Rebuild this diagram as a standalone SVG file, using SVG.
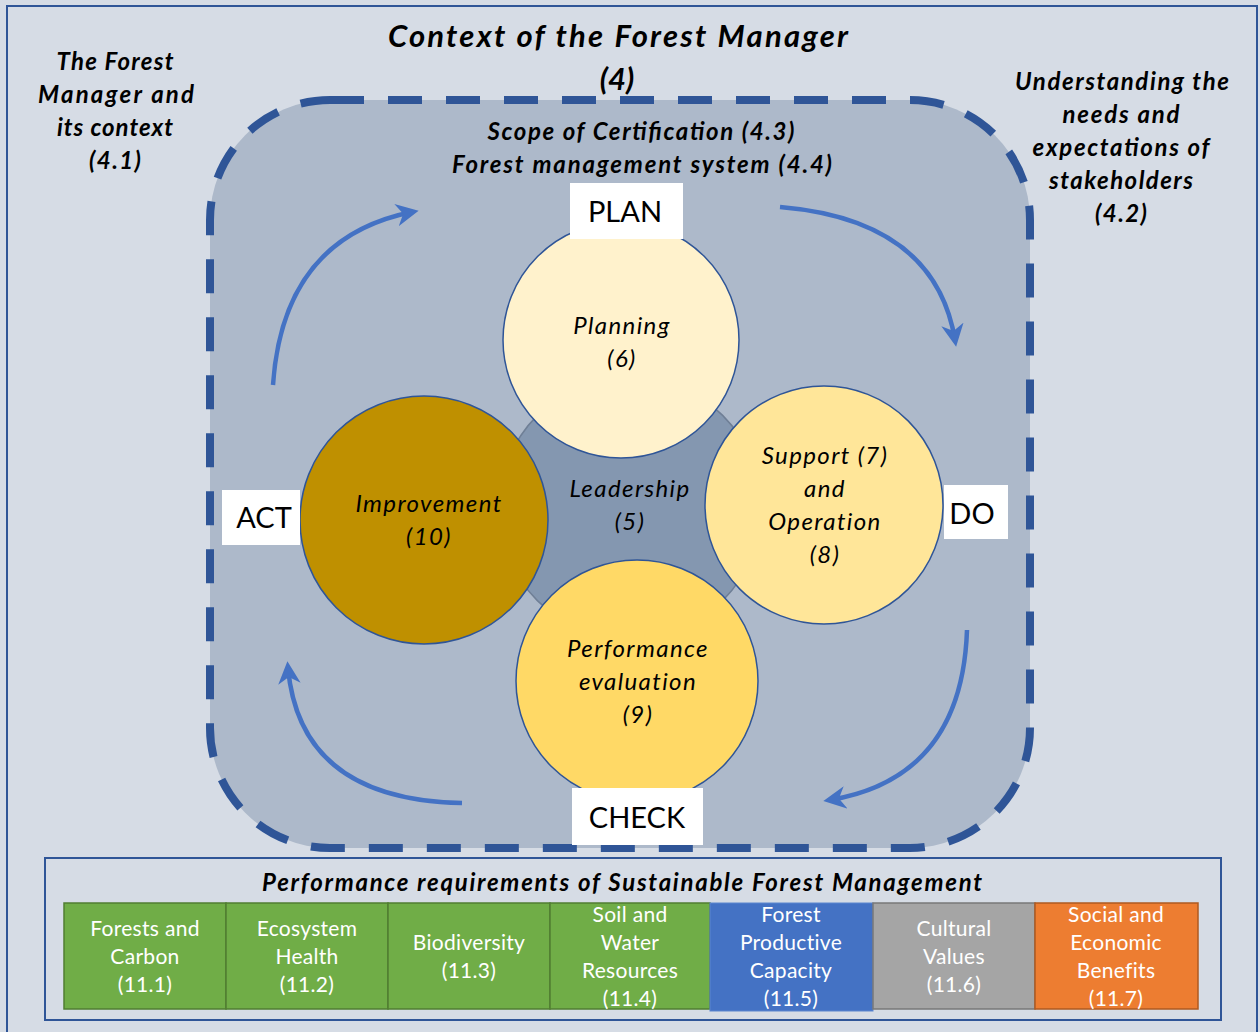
<svg xmlns="http://www.w3.org/2000/svg" width="1260" height="1032" viewBox="0 0 1260 1032">
<style>
.hb{font-family:Lato,"Open Sans","Liberation Sans",sans-serif;font-weight:bold;font-style:italic;font-size:24px;fill:#000;text-anchor:middle}
.ci{font-family:Lato,"Open Sans","Liberation Sans",sans-serif;font-style:italic;font-size:24px;letter-spacing:1.4px;fill:#000;text-anchor:middle}
.lb{font-family:Lato,"Open Sans","Liberation Sans",sans-serif;font-size:29px;fill:#000;text-anchor:middle}
.ct{font-family:Lato,"Open Sans","Liberation Sans",sans-serif;font-size:21px;letter-spacing:0.3px;fill:#fff;text-anchor:middle}
.circ{stroke:#2F5597;stroke-width:1.5}
.arr{fill:none;stroke:#4472C4;stroke-width:4.5;marker-end:url(#ah)}
.box{fill:#fff}
</style>
<defs>
<marker id="ah" viewBox="0 0 10 10" refX="7" refY="5" markerWidth="5" markerHeight="5" orient="auto" markerUnits="strokeWidth">
<path d="M0,0 L10,5 L0,10 L3,5 Z" fill="#4472C4"/>
</marker>
</defs>
<rect x="0" y="0" width="1260" height="1032" fill="#D6DCE5"/>
<rect x="7" y="6" width="1250" height="1040" fill="#D6DCE5" stroke="#2F5597" stroke-width="2"/>

<g id="context">
<rect x="210" y="100" width="820" height="748" rx="120" ry="120" fill="#ADB9CA" stroke="#2F5597" stroke-width="8" stroke-dasharray="34 24"/>
<text class="hb" x="618" y="47" style="font-size:31px" textLength="460" lengthAdjust="spacing">Context of the Forest Manager</text>
<text class="hb" x="617" y="90" style="font-size:31px">(4)</text>
<text class="hb" x="641" y="140" textLength="307" lengthAdjust="spacing">Scope of Certification (4.3)</text>
<text class="hb" x="642" y="173" textLength="380" lengthAdjust="spacing">Forest management system (4.4)</text>
</g>

<g id="forest-manager-context">
<text class="hb" x="115" y="70" textLength="117" lengthAdjust="spacing">The Forest</text>
<text class="hb" x="116" y="103" textLength="156" lengthAdjust="spacing">Manager and</text>
<text class="hb" x="115" y="136" textLength="116" lengthAdjust="spacing">its context</text>
<text class="hb" x="115" y="169" textLength="52" lengthAdjust="spacing">(4.1)</text>
</g>

<g id="stakeholders">
<text class="hb" x="1122" y="90" textLength="214" lengthAdjust="spacing">Understanding the</text>
<text class="hb" x="1121" y="123" textLength="117" lengthAdjust="spacing">needs and</text>
<text class="hb" x="1121" y="156" textLength="177" lengthAdjust="spacing">expectations of</text>
<text class="hb" x="1121" y="189" textLength="144" lengthAdjust="spacing">stakeholders</text>
<text class="hb" x="1121" y="222" textLength="52" lengthAdjust="spacing">(4.2)</text>
</g>

<g id="connectors">
<path class="arr" d="M273,385 Q283,238 412,212"/>
<path class="arr" d="M780,207 Q935,220 955,340"/>
<path class="arr" d="M967,630 Q962,778 830,800"/>
<path class="arr" d="M462,803 Q300,800 288,668"/>
</g>

<g id="leadership">
<circle cx="630" cy="508" r="131" fill="#8497B0" stroke="#6F7F96" stroke-width="1.5"/>
<text class="ci" x="630" y="497">Leadership</text>
<text class="ci" x="630" y="530">(5)</text>
</g>

<g id="planning">
<circle class="circ" cx="621" cy="340" r="118" fill="#FFF2CC"/>
<text class="ci" x="622" y="334">Planning</text>
<text class="ci" x="622" y="367">(6)</text>
</g>

<g id="support">
<circle class="circ" cx="824" cy="505" r="119" fill="#FFE699"/>
<text class="ci" x="825" y="464">Support (7)</text>
<text class="ci" x="825" y="497">and</text>
<text class="ci" x="825" y="530">Operation</text>
<text class="ci" x="825" y="563">(8)</text>
</g>

<g id="performance">
<circle class="circ" cx="637" cy="681" r="121" fill="#FFD966"/>
<text class="ci" x="638" y="657">Performance</text>
<text class="ci" x="638" y="690">evaluation</text>
<text class="ci" x="638" y="723">(9)</text>
</g>

<g id="improvement">
<circle class="circ" cx="424" cy="520" r="124" fill="#BF9000"/>
<text class="ci" x="429" y="512">Improvement</text>
<text class="ci" x="429" y="545">(10)</text>
</g>

<g id="plan">
<rect class="box" x="570" y="183" width="113" height="56"/>
<text class="lb" x="625" y="222">PLAN</text>
</g>
<g id="do">
<rect class="box" x="944" y="485" width="64" height="54"/>
<text class="lb" x="972" y="524">DO</text>
</g>
<g id="act">
<rect class="box" x="222" y="490" width="78" height="55"/>
<text class="lb" x="264" y="528">ACT</text>
</g>
<g id="check">
<rect class="box" x="572" y="788" width="131" height="57"/>
<text class="lb" x="637" y="828">CHECK</text>
</g>

<g id="performance-requirements">
<rect x="45" y="858" width="1176" height="162" fill="none" stroke="#2F5597" stroke-width="2"/>
<text class="hb" x="622" y="891" textLength="720" lengthAdjust="spacing">Performance requirements of Sustainable Forest Management</text>
</g>

<g id="c111">
<rect x="64" y="903" width="162" height="106" fill="#70AD47" stroke="#507E32" stroke-width="1.5"/>
<text class="ct" x="145" y="936">Forests and</text>
<text class="ct" x="145" y="964">Carbon</text>
<text class="ct" x="145" y="992">(11.1)</text>
</g>
<g id="c112">
<rect x="226" y="903" width="162" height="106" fill="#70AD47" stroke="#507E32" stroke-width="1.5"/>
<text class="ct" x="307" y="936">Ecosystem</text>
<text class="ct" x="307" y="964">Health</text>
<text class="ct" x="307" y="992">(11.2)</text>
</g>
<g id="c113">
<rect x="388" y="903" width="162" height="106" fill="#70AD47" stroke="#507E32" stroke-width="1.5"/>
<text class="ct" x="469" y="950">Biodiversity</text>
<text class="ct" x="469" y="978">(11.3)</text>
</g>
<g id="c114">
<rect x="550" y="903" width="160" height="106" fill="#70AD47" stroke="#507E32" stroke-width="1.5"/>
<text class="ct" x="630" y="922">Soil and</text>
<text class="ct" x="630" y="950">Water</text>
<text class="ct" x="630" y="978">Resources</text>
<text class="ct" x="630" y="1006">(11.4)</text>
</g>
<g id="c115">
<rect x="710" y="903" width="163" height="108" fill="#4472C4" stroke="#5B85CF" stroke-width="1"/>
<text class="ct" x="791" y="922">Forest</text>
<text class="ct" x="791" y="950">Productive</text>
<text class="ct" x="791" y="978">Capacity</text>
<text class="ct" x="791" y="1006">(11.5)</text>
</g>
<g id="c116">
<rect x="873" y="903" width="162" height="106" fill="#A5A5A5" stroke="#787878" stroke-width="1.5"/>
<text class="ct" x="954" y="936">Cultural</text>
<text class="ct" x="954" y="964">Values</text>
<text class="ct" x="954" y="992">(11.6)</text>
</g>
<g id="c117">
<rect x="1035" y="903" width="163" height="106" fill="#ED7D31" stroke="#AE5A21" stroke-width="1.5"/>
<text class="ct" x="1116" y="922">Social and</text>
<text class="ct" x="1116" y="950">Economic</text>
<text class="ct" x="1116" y="978">Benefits</text>
<text class="ct" x="1116" y="1006">(11.7)</text>
</g>
</svg>
